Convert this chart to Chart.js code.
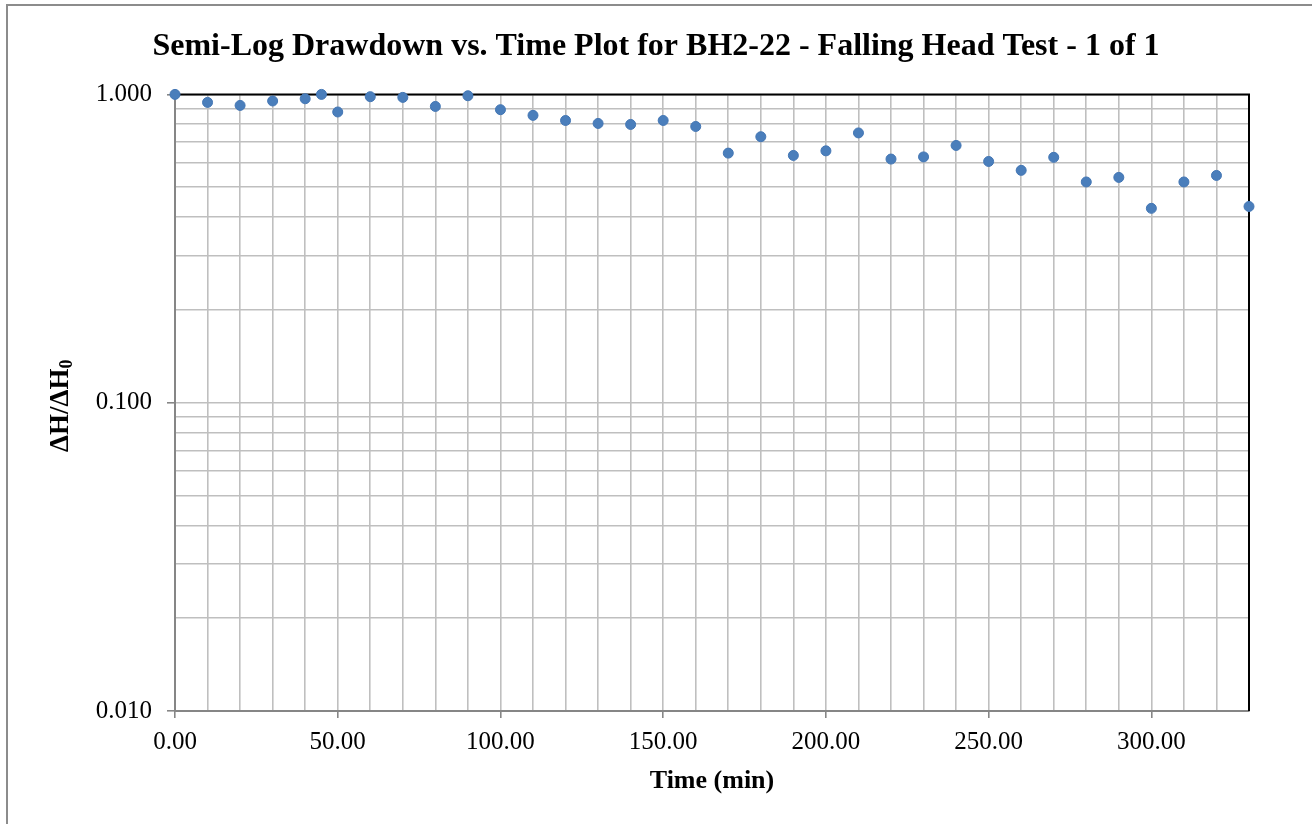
<!DOCTYPE html>
<html>
<head>
<meta charset="utf-8">
<script src="https://cdn.jsdelivr.net/npm/chart.js@4/dist/chart.umd.min.js"></script>
<style>
html,body{margin:0;padding:0;background:#fff;}
canvas{display:block;}
</style>
</head>
<body>
<canvas id="c" width="1312" height="824"></canvas>
<script>
// ---- data ----
const times = [0,10,20,30,40,45,50,60,70,80,90,100,110,120,130,140,150,160,170,180,190,200,210,220,230,240,250,260,270,280,290,300,310,320,330];
const ratios = [1.000,0.942,0.921,0.952,0.968,1.000,0.877,0.983,0.978,0.914,0.990,0.892,0.855,0.823,0.805,0.799,0.823,0.787,0.645,0.729,0.634,0.656,0.750,0.617,0.627,0.683,0.606,0.567,0.625,0.520,0.538,0.427,0.520,0.546,0.433];
const xMajorTicks = [0,50,100,150,200,250,300];
const yMajorTicks = [0.01,0.1,1];
const titleText = 'Semi-Log Drawdown vs. Time Plot for BH2-22 - Falling Head Test - 1 of 1';
const xTitle = 'Time (min)';
const yTitleMain = 'ΔH/ΔH';
const yTitleSub = '0';

const FONT = "'Liberation Serif', 'Times New Roman', serif";
const points = times.map((t,i)=>({x:t, y:ratios[i]}));

function isMajorY(v){ return yMajorTicks.some(m => Math.abs(Math.log10(v) - Math.log10(m)) < 1e-6); }
function isMajorX(v){ return xMajorTicks.some(m => Math.abs(v - m) < 1e-6); }

const framePlugin = {
  id: 'frame',
  beforeDraw(chart){
    const ctx = chart.ctx;
    ctx.save();
    ctx.fillStyle = '#fff';
    ctx.fillRect(0,0,chart.width,chart.height);
    ctx.strokeStyle = '#8c8c8c';
    ctx.lineWidth = 2;
    ctx.beginPath();
    ctx.moveTo(7, chart.height);
    ctx.lineTo(7, 5);
    ctx.lineTo(chart.width, 5);
    ctx.stroke();
    ctx.restore();
  },
  beforeDatasetsDraw(chart){
    const {ctx, chartArea:a} = chart;
    ctx.save();
    ctx.strokeStyle = '#000';
    ctx.lineWidth = 2;
    ctx.beginPath();
    ctx.moveTo(a.left, a.top);
    ctx.lineTo(a.right, a.top);
    ctx.lineTo(a.right, a.bottom);
    ctx.stroke();
    ctx.restore();
  },
  afterDraw(chart){
    const {ctx, chartArea:a} = chart;
    ctx.save();
    ctx.fillStyle = '#000';
    const mainFont = 'bold 27px ' + FONT;
    const subFont = 'bold 18px ' + FONT;
    ctx.font = mainFont;
    const w1 = ctx.measureText(yTitleMain).width;
    ctx.font = subFont;
    const w2 = ctx.measureText(yTitleSub).width;
    const total = w1 + w2;
    const cy = (a.top + a.bottom)/2 + 3;
    ctx.translate(68, cy);
    ctx.rotate(-Math.PI/2);
    ctx.textBaseline = 'alphabetic';
    ctx.textAlign = 'left';
    ctx.font = mainFont;
    ctx.fillText(yTitleMain, -total/2, 0);
    ctx.font = subFont;
    ctx.fillText(yTitleSub, -total/2 + w1, 4);
    ctx.restore();
  }
};

new Chart(document.getElementById('c'), {
  type: 'scatter',
  data: {
    datasets: [{
      data: points,
      backgroundColor: '#4a7ebb',
      borderColor: '#4477b5',
      borderWidth: 1,
      pointRadius: 5,
      pointHoverRadius: 5,
      clip: false
    }]
  },
  options: {
    responsive: false,
    animation: false,
    layout: { padding: 0 },
    plugins: {
      legend: { display: false },
      tooltip: { enabled: false },
      title: {
        display: true,
        text: titleText,
        color: '#000',
        font: { family: FONT, size: 32, weight: 'bold' },
        padding: { top: 28, bottom: 28 }
      }
    },
    scales: {
      x: {
        type: 'linear',
        position: 'bottom',
        min: 0, max: 330,
        afterBuildTicks(s){
          const t = [];
          for (let v = 0; v <= 330; v += 10) t.push({value: v});
          s.ticks = t;
        },
        afterFit(s){ s.height = 113; },
        ticks: {
          autoSkip: false, maxRotation: 0, minRotation: 0,
          padding: 9,
          color: '#000',
          font: { family: FONT, size: 25 },
          callback: v => isMajorX(v) ? Number(v).toFixed(2) : ''
        },
        grid: {
          color: '#bfbfbf',
          lineWidth: 1.6,
          tickLength: 7,
          tickColor: ctx => (ctx.tick && isMajorX(ctx.tick.value)) ? '#868686' : 'rgba(0,0,0,0)',
          tickWidth: 1.6
        },
        border: { display: true, color: '#868686', width: 2 },
        title: {
          display: true,
          text: xTitle,
          color: '#000',
          font: { family: FONT, size: 26, weight: 'bold' },
          padding: { top: 0, bottom: 27 }
        }
      },
      y: {
        type: 'logarithmic',
        position: 'left',
        min: 0.01, max: 1,
        afterBuildTicks(s){
          const t = [];
          for (let d = 0; d < yMajorTicks.length - 1; d++) {
            for (let k = 1; k <= 9; k++) t.push({value: +(k * yMajorTicks[d]).toPrecision(3)});
          }
          t.push({value: yMajorTicks[yMajorTicks.length - 1]});
          s.ticks = t;
        },
        afterFit(s){ s.width = 175; },
        ticks: {
          autoSkip: false,
          padding: 15,
          color: '#000',
          font: { family: FONT, size: 25 },
          callback: v => isMajorY(v) ? Number(v).toFixed(3) : ''
        },
        grid: {
          color: '#bfbfbf',
          lineWidth: 1.6,
          tickLength: 8,
          tickColor: ctx => (ctx.tick && isMajorY(ctx.tick.value)) ? '#868686' : 'rgba(0,0,0,0)',
          tickWidth: 1.6
        },
        border: { display: true, color: '#868686', width: 2 },
        title: { display: false }
      },
      y2: {
        type: 'linear',
        position: 'right',
        min: 0, max: 1,
        afterFit(s){ s.width = 63; },
        ticks: { display: false },
        grid: { display: false, drawTicks: false },
        border: { display: false }
      }
    }
  },
  plugins: [framePlugin]
});
</script>
</body>
</html>
